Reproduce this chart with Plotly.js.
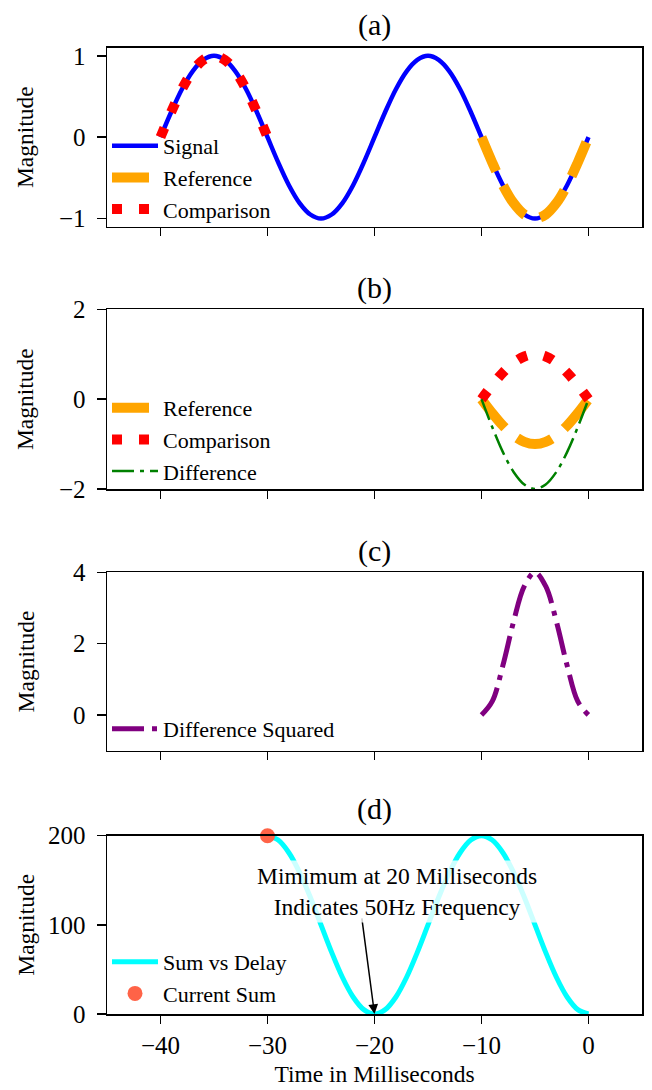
<!DOCTYPE html>
<html>
<head>
<meta charset="utf-8">
<script src="https://cdn.plot.ly/plotly-3.0.1.min.js"></script>
<style>html,body{margin:0;padding:0;background:#fff;}#chart{width:652px;height:1090px;}</style>
</head>
<body>
<div id="chart"></div>
<script>
// ---- Data ----
const timeMs = [-40,-39,-38,-37,-36,-35,-34,-33,-32,-31,-30,-29,-28,-27,-26,-25,-24,-23,-22,-21,-20,-19,-18,-17,-16,-15,-14,-13,-12,-11,-10,-9,-8,-7,-6,-5,-4,-3,-2,-1,0];
const signalVals = [0,0.31,0.59,0.81,0.95,1,0.95,0.81,0.59,0.31,0,-0.31,-0.59,-0.81,-0.95,-1,-0.95,-0.81,-0.59,-0.31,0,0.31,0.59,0.81,0.95,1,0.95,0.81,0.59,0.31,0,-0.31,-0.59,-0.81,-0.95,-1,-0.95,-0.81,-0.59,-0.31,0];

const referenceTimes = [-10,-9,-8,-7,-6,-5,-4,-3,-2,-1,0];
const referenceVals = [0,-0.31,-0.59,-0.81,-0.95,-1,-0.95,-0.81,-0.59,-0.31,0];

const comparisonTimesA = [-40,-39,-38,-37,-36,-35,-34,-33,-32,-31,-30];
const comparisonVals = [0,0.31,0.59,0.81,0.95,1,0.95,0.81,0.59,0.31,0];

const differenceVals = [0,-0.62,-1.18,-1.62,-1.9,-2,-1.9,-1.62,-1.18,-0.62,0];
const diffSquaredVals = [0,0.38,1.39,2.62,3.61,4,3.61,2.62,1.39,0.38,0];

const delayTimes = [-30,-29,-28,-27,-26,-25,-24,-23,-22,-21,-20,-19,-18,-17,-16,-15,-14,-13,-12,-11,-10,-9,-8,-7,-6,-5,-4,-3,-2,-1,0];
const sumVals = [200,195.1,180.9,158.8,130.9,100,69.1,41.2,19.1,4.9,0,4.9,19.1,41.2,69.1,100,130.9,158.8,180.9,195.1,200,195.1,180.9,158.8,130.9,100,69.1,41.2,19.1,4.9,0];

const currentSumTime = [-30];
const currentSumVal = [200];

const xTicks = [-40,-30,-20,-10,0];
const panelTitles = ['(a)','(b)','(c)','(d)'];

// ---- Styling ----
const FONT = '"Liberation Serif", "Times New Roman", Times, serif';
const W = 652, H = 1090;
const plotLeft = 107, plotRight = 642;
function py(px){ return 1 - px / H; }

const traces = [
  {x: timeMs, y: signalVals, name: 'Signal', mode: 'lines', xaxis: 'x', yaxis: 'y', legend: 'legend',
   line: {color: '#0000ff', width: 4.5, shape: 'spline'}},
  {x: referenceTimes, y: referenceVals, name: 'Reference', mode: 'lines', xaxis: 'x', yaxis: 'y', legend: 'legend',
   line: {color: '#ffa500', width: 10, dash: '37px,16px', shape: 'spline'}},
  {x: comparisonTimesA, y: comparisonVals, name: 'Comparison', mode: 'lines', xaxis: 'x', yaxis: 'y', legend: 'legend',
   line: {color: '#ff0000', width: 10, dash: '10px,17px', shape: 'spline'}},

  {x: referenceTimes, y: referenceVals, name: 'Reference', mode: 'lines', xaxis: 'x2', yaxis: 'y2', legend: 'legend2',
   line: {color: '#ffa500', width: 10, dash: '37px,16px', shape: 'spline'}},
  {x: referenceTimes, y: comparisonVals, name: 'Comparison', mode: 'lines', xaxis: 'x2', yaxis: 'y2', legend: 'legend2',
   line: {color: '#ff0000', width: 10, dash: '10px,17px', shape: 'spline'}},
  {x: referenceTimes, y: differenceVals, name: 'Difference', mode: 'lines', xaxis: 'x2', yaxis: 'y2', legend: 'legend2',
   line: {color: '#008000', width: 2.5, dash: '22px,6px,4px,6px', shape: 'spline'}},

  {x: referenceTimes, y: diffSquaredVals, name: 'Difference Squared', mode: 'lines', xaxis: 'x3', yaxis: 'y3', legend: 'legend3',
   line: {color: '#800080', width: 5, dash: '32px,8px,5px,8px', shape: 'spline'}},

  {x: delayTimes, y: sumVals, name: 'Sum vs Delay', mode: 'lines', xaxis: 'x4', yaxis: 'y4', legend: 'legend4',
   line: {color: '#00ffff', width: 5, shape: 'spline'}},
  {x: currentSumTime, y: currentSumVal, name: 'Current Sum', mode: 'markers', xaxis: 'x4', yaxis: 'y4', legend: 'legend4',
   cliponaxis: false, marker: {color: '#ff6347', size: 15}}
];

const domains = [
  [py(226.7), py(47.7)],
  [py(489), py(309.3)],
  [py(750.7), py(572.3)],
  [py(1014), py(835.7)]
];
const yRanges = [[-1.1, 1.1], [-2, 2], [-1, 4], [0, 200]];
const yTicks = [[-1, 0, 1], [-2, 0, 2], [0, 2, 4], [0, 100, 200]];
const yStandoff = [18, 18, 32, 7];

function xAxis(i){
  const ax = {
    range: [-45, 5], tickvals: xTicks, ticks: 'outside', ticklen: 8, tickwidth: 1.5, tickcolor: '#000',
    showline: true, linecolor: '#000', linewidth: 1.5, mirror: true, showgrid: false, zeroline: false,
    tickfont: {family: FONT, size: 25, color: '#000'}, anchor: i === 0 ? 'y' : 'y' + (i + 1),
    showticklabels: i === 3, fixedrange: true
  };
  if (i > 0) ax.matches = 'x';
  if (i === 3) {
    ax.title = {text: 'Time in Milliseconds', font: {family: FONT, size: 23.5, color: '#000'}, standoff: 8};
    ax.ticklabelstandoff = 0;
  }
  return ax;
}
function yAxis(i){
  return {
    domain: domains[i], range: yRanges[i], tickvals: yTicks[i], ticks: 'outside', ticklen: 9, tickwidth: 1.5,
    tickcolor: '#000', showline: true, linecolor: '#000', linewidth: 1.5, mirror: true, showgrid: false,
    zeroline: false, tickfont: {family: FONT, size: 25, color: '#000'}, anchor: i === 0 ? 'x' : 'x' + (i + 1),
    ticklabelstandoff: 6, automargin: false, fixedrange: true,
    title: {text: 'Magnitude', font: {family: FONT, size: 23.5, color: '#000'}, standoff: yStandoff[i]}
  };
}

const legendBase = {
  font: {family: FONT, size: 22, color: '#000'}, bgcolor: 'rgba(0,0,0,0)', borderwidth: 0,
  xanchor: 'left', yanchor: 'bottom', itemwidth: 46, tracegroupgap: 0, itemclick: false, itemdoubleclick: false
};

const titleAnnotations = panelTitles.map((t, i) => ({
  text: t, xref: 'paper', yref: 'paper', x: 0.5, y: py([25, 288, 551, 808.5][i]),
  xanchor: 'center', yanchor: 'middle', showarrow: false, font: {family: FONT, size: 30, color: '#000'}
}));

const layout = {
  width: W, height: H,
  margin: {l: plotLeft, r: W - plotRight, t: 0, b: 0},
  paper_bgcolor: '#fff', plot_bgcolor: '#fff',
  font: {family: FONT, color: '#000'},
  showlegend: true,
  xaxis: xAxis(0), xaxis2: xAxis(1), xaxis3: xAxis(2), xaxis4: xAxis(3),
  yaxis: yAxis(0), yaxis2: yAxis(1), yaxis3: yAxis(2), yaxis4: yAxis(3),
  legend: Object.assign({}, legendBase, {x: 0.0, y: py(230)}),
  legend2: Object.assign({}, legendBase, {x: 0.0, y: py(492)}),
  legend3: Object.assign({}, legendBase, {x: 0.0, y: py(750)}),
  legend4: Object.assign({}, legendBase, {x: 0.0, y: py(1015)}),
  annotations: titleAnnotations.concat([
    {x: -20, y: 0, xref: 'x4', yref: 'y4', ax: -21.2, ay: 109, axref: 'x4', ayref: 'y4', text: '',
     showarrow: true, arrowhead: 2, arrowsize: 1.3, arrowwidth: 1.5, arrowcolor: '#000', standoff: 0},
    {x: -17.9, y: 137, xref: 'x4', yref: 'y4', xanchor: 'center', yanchor: 'middle', showarrow: false,
     text: 'Mimimum at 20 Milliseconds<br>Indicates 50Hz Frequency', bgcolor: 'rgba(255,255,255,0.8)',
     borderpad: 2, font: {family: FONT, size: 23.5, color: '#000'}}
  ])
};

Plotly.newPlot('chart', traces, layout, {staticPlot: true, displayModeBar: false});
</script>
</body>
</html>
